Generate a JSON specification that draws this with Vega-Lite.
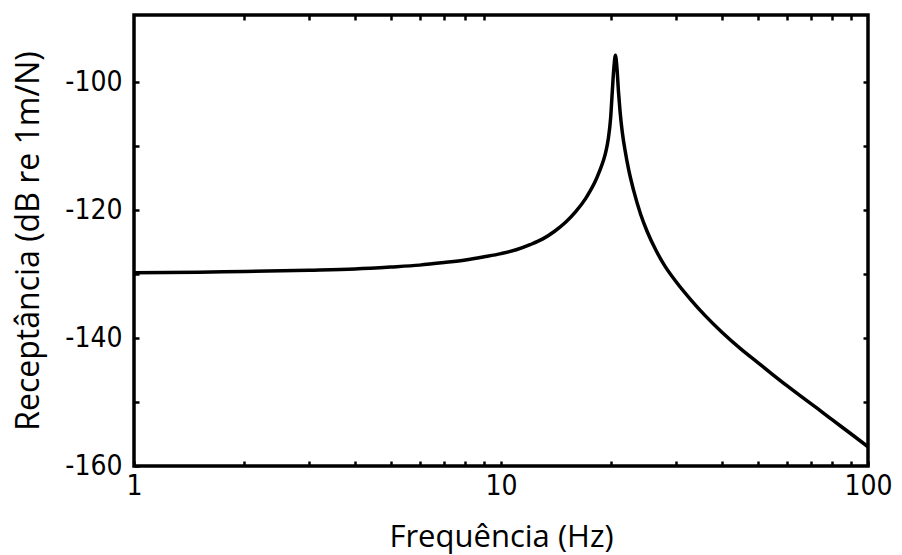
{
  "$schema": "https://vega.github.io/schema/vega-lite/v6.json",
  "width": 734,
  "height": 451,
  "autosize": {"type": "none"},
  "padding": {"left": 134, "top": 15, "right": 34, "bottom": 89},
  "background": "white",
  "config": {
    "view": {"stroke": "black", "strokeWidth": 3.5},
    "axis": {"grid": false, "domain": false, "tickColor": "black", "tickWidth": 2.5, "labelColor": "black", "titleColor": "black"}
  },
  "data": {
    "values": [
      {"f": 1, "r": -129.8},
      {"f": 1.5, "r": -129.7},
      {"f": 2, "r": -129.6},
      {"f": 3, "r": -129.4},
      {"f": 4, "r": -129.2},
      {"f": 5, "r": -128.9},
      {"f": 6, "r": -128.6},
      {"f": 7, "r": -128.2},
      {"f": 8, "r": -127.8},
      {"f": 9, "r": -127.3},
      {"f": 10, "r": -126.8},
      {"f": 11, "r": -126.2},
      {"f": 12, "r": -125.4},
      {"f": 13, "r": -124.5},
      {"f": 14, "r": -123.3},
      {"f": 15, "r": -121.9},
      {"f": 16, "r": -120.2},
      {"f": 17, "r": -118.2},
      {"f": 17.5, "r": -117.0},
      {"f": 18, "r": -115.7},
      {"f": 18.5, "r": -114.1},
      {"f": 19, "r": -112.3},
      {"f": 19.3, "r": -110.9},
      {"f": 19.6, "r": -108.9},
      {"f": 19.9, "r": -105.5},
      {"f": 20.1, "r": -101.5},
      {"f": 20.3, "r": -97.8},
      {"f": 20.5, "r": -95.8},
      {"f": 20.7, "r": -97.8},
      {"f": 20.9, "r": -101.5},
      {"f": 21.1, "r": -104.5},
      {"f": 21.4, "r": -107.8},
      {"f": 21.8, "r": -110.8},
      {"f": 22.3, "r": -113.8},
      {"f": 23, "r": -117.0},
      {"f": 24, "r": -120.6},
      {"f": 25, "r": -123.3},
      {"f": 26.5, "r": -126.4},
      {"f": 28, "r": -128.8},
      {"f": 30, "r": -131.2},
      {"f": 33, "r": -134.1},
      {"f": 36, "r": -136.5},
      {"f": 40, "r": -139.1},
      {"f": 45, "r": -141.7},
      {"f": 50, "r": -143.8},
      {"f": 55, "r": -145.7},
      {"f": 60, "r": -147.4},
      {"f": 66, "r": -149.2},
      {"f": 72, "r": -150.8},
      {"f": 80, "r": -152.8},
      {"f": 90, "r": -155.0},
      {"f": 100, "r": -157.0}
    ]
  },
  "layer": [
    {
      "mark": {"type": "line", "color": "black", "strokeWidth": 3.5, "interpolate": "monotone", "clip": true},
      "encoding": {
        "x": {
          "field": "f", "type": "quantitative",
          "scale": {"type": "log", "domain": [1, 100], "nice": false},
          "axis": {
            "orient": "bottom",
            "values": [1, 2, 3, 4, 5, 6, 7, 8, 9, 10, 20, 30, 40, 50, 60, 70, 80, 90, 100],
            "labelExpr": "(datum.value == 1 || datum.value == 10 || datum.value == 100) ? datum.label : ''",
            "format": "d",
            "tickSize": -5,
            "labelPadding": 11,
            "labelFont": "DejaVu Sans Condensed",
            "labelFontSize": 28,
            "labelFlush": false,
            "labelOverlap": false,
            "title": "Frequência (Hz)",
            "titleFont": "Open Sans",
            "titleFontSize": 31,
            "titleFontWeight": "normal",
            "titlePadding": 22
          }
        },
        "y": {
          "field": "r", "type": "quantitative",
          "scale": {"domain": [-160, -89.5], "nice": false, "zero": false},
          "axis": {
            "orient": "left",
            "values": [-160, -150, -140, -130, -120, -110, -100],
            "labelExpr": "datum.value % 20 == 0 ? '-' + abs(datum.value) : ''",
            "tickSize": -5,
            "labelPadding": 17,
            "labelFont": "DejaVu Sans Condensed",
            "labelFontSize": 28,
            "labelOverlap": false,
            "title": "Receptância (dB re 1m/N)",
            "titleFont": "Open Sans",
            "titleFontSize": 32,
            "titleFontWeight": "normal",
            "titlePadding": 19
          }
        }
      }
    },
    {
      "mark": {"type": "line", "color": "black", "strokeWidth": 3.5, "interpolate": "monotone", "opacity": 0},
      "encoding": {
        "x": {
          "field": "f", "type": "quantitative",
          "scale": {"type": "log", "domain": [1, 100], "nice": false},
          "axis": {
            "orient": "top",
            "values": [2, 3, 4, 5, 6, 7, 8, 9, 20, 30, 40, 50, 60, 70, 80, 90],
            "labels": false,
            "tickSize": -5,
            "title": null
          }
        },
        "y": {
          "field": "r", "type": "quantitative",
          "scale": {"domain": [-160, -89.5], "nice": false, "zero": false},
          "axis": {
            "orient": "right",
            "values": [-150, -140, -130, -120, -110, -100],
            "labels": false,
            "tickSize": -5,
            "title": null
          }
        }
      }
    }
  ],
  "resolve": {"axis": {"x": "independent", "y": "independent"}}
}
